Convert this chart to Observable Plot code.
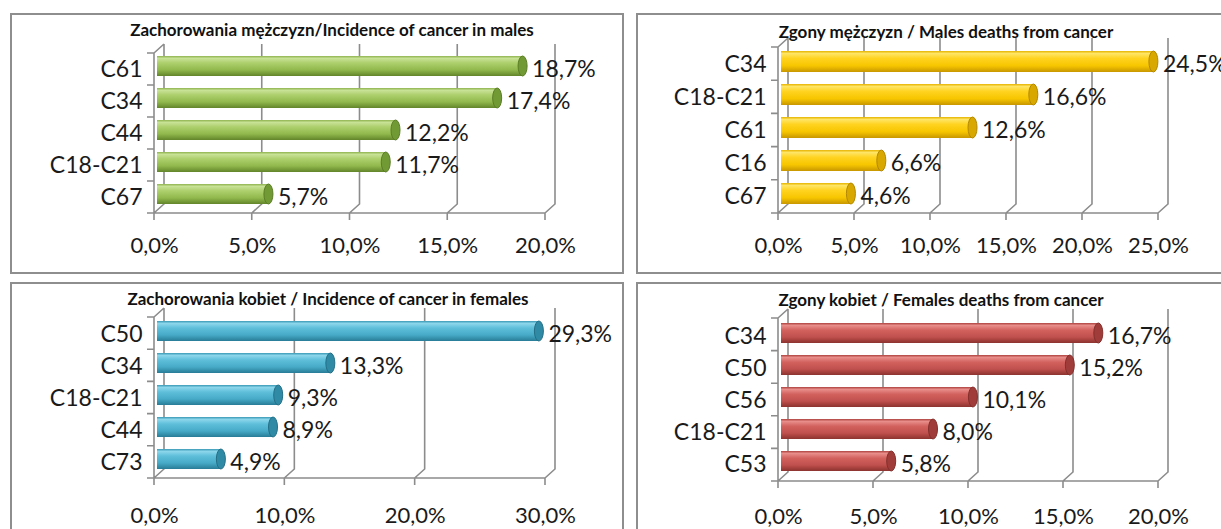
<!DOCTYPE html>
<html><head><meta charset="utf-8">
<script src="https://cdn.jsdelivr.net/npm/d3@7"></script>
<script src="https://cdn.jsdelivr.net/npm/@observablehq/plot@0.6"></script>
<style>
html,body{margin:0;padding:0;background:#fff;overflow:hidden;}
#root{position:relative;width:1221px;height:529px;overflow:hidden;font-family:Lato,"Open Sans",sans-serif;color:#1a1a1a;}
.box{position:absolute;border:2px solid #8e8e8e;box-sizing:border-box;}
.plot{position:absolute;}
.title{position:absolute;width:600px;text-align:center;font-weight:bold;font-size:17px;line-height:17px;color:#111;white-space:nowrap;}
</style></head><body><div id="root"></div>
<script>
// ---- data ----
const maleIncTitle = "Zachorowania mężczyzn/Incidence of cancer in males";
const maleIncCats = ["C61", "C34", "C44", "C18-C21", "C67"];
const maleIncVals = [18.7, 17.4, 12.2, 11.7, 5.7];
const maleIncTicks = [0, 5, 10, 15, 20];

const maleDeathTitle = "Zgony mężczyzn / Males deaths from cancer";
const maleDeathCats = ["C34", "C18-C21", "C61", "C16", "C67"];
const maleDeathVals = [24.5, 16.6, 12.6, 6.6, 4.6];
const maleDeathTicks = [0, 5, 10, 15, 20, 25];

const femIncTitle = "Zachorowania kobiet / Incidence of cancer in females";
const femIncCats = ["C50", "C34", "C18-C21", "C44", "C73"];
const femIncVals = [29.3, 13.3, 9.3, 8.9, 4.9];
const femIncTicks = [0, 10, 20, 30];

const femDeathTitle = "Zgony kobiet / Females deaths from cancer";
const femDeathCats = ["C34", "C50", "C56", "C18-C21", "C53"];
const femDeathVals = [16.7, 15.2, 10.1, 8.0, 5.8];
const femDeathTicks = [0, 5, 10, 15, 20];

// ---- styles / layout ----
const palettes = {
  green: {stops: ["#8fb34f", "#c8e296", "#adcf6c", "#90b84c", "#62852a"], cap: "#719a35", capStroke: "#5a7d26"},
  yellow: {stops: ["#e6b400", "#ffe566", "#ffd320", "#f7c600", "#c89700"], cap: "#d9a800", capStroke: "#b38700"},
  blue: {stops: ["#3798b5", "#8cd6ea", "#5fbfda", "#47aac7", "#287c96"], cap: "#2f8aa6", capStroke: "#256f86"},
  red: {stops: ["#ad423f", "#e88e8b", "#d3625f", "#c0504d", "#8c3330"], cap: "#a03c39", capStroke: "#83302d"}
};
const offsets = [0, 0.12, 0.35, 0.7, 1];

const panels = [
  {title: maleIncTitle, cats: maleIncCats, vals: maleIncVals, ticks: maleIncTicks, color: "green",
   box: [10, 13, 614, 261], svg: [612, 260], m: [40, 77, 60, 144], pad: 24, titleX: 332, titleY: 21},
  {title: maleDeathTitle, cats: maleDeathCats, vals: maleDeathVals, ticks: maleDeathTicks, color: "yellow",
   box: [636, 13, 620, 261], svg: [600, 260], m: [34, 78, 60, 142], pad: 24, titleX: 946, titleY: 23},
  {title: femIncTitle, cats: femIncCats, vals: femIncVals, ticks: femIncTicks, color: "blue",
   box: [10, 282, 614, 260], svg: [612, 260], m: [35, 77, 64, 144], pad: 29, titleX: 328, titleY: 290},
  {title: femDeathTitle, cats: femDeathCats, vals: femDeathVals, ticks: femDeathTicks, color: "red",
   box: [636, 282, 620, 260], svg: [600, 260], m: [36, 78, 61, 142], pad: 27, titleX: 941, titleY: 291}
];

const fmt = d => d.toFixed(1).replace(".", ",") + "%";
const root = document.getElementById("root");

function frame3d(ticks, n) {
  return Plot.ruleX(ticks, {x: d => d, render(index, scales, values, dims) {
    const xs = Array.from(index, i => values.x[i]);
    const top = dims.marginTop, bottom = dims.height - dims.marginBottom;
    const x0 = xs[0], xl = xs[xs.length - 1];
    const ox = 10, oy = -9, tk = 7;
    let d = "";
    for (const px of xs) d += `M${px},${bottom}L${px + ox},${bottom + oy}L${px + ox},${top + oy}`;
    d += `M${x0},${bottom}L${x0},${top}L${x0 + ox},${top + oy}`;
    d += `M${x0 - tk},${bottom}L${xl},${bottom}`;
    for (const px of xs) d += `M${px},${bottom}V${bottom + tk}`;
    const step = (bottom - top) / n;
    for (let k = 0; k < n; k++) d += `M${x0 - tk},${top + k * step}H${x0}`;
    const g = d3.create("svg:g");
    g.append("path").attr("d", d).attr("fill", "none").attr("stroke", "#8c8c8c").attr("stroke-width", 1.6);
    return g.node();
  }});
}

function cylinder(color) {
  const p = palettes[color];
  return (index, scales, values, dims, ctx, next) => {
    const g = next(index, scales, values, dims, ctx);
    const sel = d3.select(g);
    const defs = sel.insert("svg:defs", ":first-child");
    const lg = defs.append("linearGradient").attr("id", "grad-" + color)
      .attr("x1", 0).attr("y1", 0).attr("x2", 0).attr("y2", 1);
    p.stops.forEach((c, i) => lg.append("stop").attr("offset", offsets[i]).attr("stop-color", c));
    const rects = sel.selectAll("rect").nodes();
    for (const r of rects) {
      const x = +r.getAttribute("x"), y = +r.getAttribute("y");
      const w = +r.getAttribute("width"), h = +r.getAttribute("height");
      sel.append("ellipse").attr("cx", x + w).attr("cy", y + h / 2).attr("rx", 4.5).attr("ry", h / 2)
        .attr("fill", p.cap).attr("stroke", p.capStroke).attr("stroke-width", 1);
    }
    return g;
  };
}

for (const P of panels) {
  const box = document.createElement("div");
  box.className = "box";
  Object.assign(box.style, {left: P.box[0] + "px", top: P.box[1] + "px", width: P.box[2] + "px", height: P.box[3] + "px"});
  root.appendChild(box);

  const data = P.cats.map((c, i) => ({c, v: P.vals[i]}));
  const chart = Plot.plot({
    width: P.svg[0], height: P.svg[1],
    marginTop: P.m[0], marginRight: P.m[1], marginBottom: P.m[2], marginLeft: P.m[3],
    x: {domain: [0, d3.max(P.ticks)], axis: null},
    y: {domain: P.cats, padding: 0, axis: null},
    style: {fontFamily: "Lato, 'Open Sans', sans-serif", background: "transparent", overflow: "visible", color: "#1a1a1a"},
    marks: [
      frame3d(P.ticks, P.cats.length),
      Plot.axisX(P.ticks, {tickSize: 0, tickPadding: P.pad, fontSize: 22, tickFormat: fmt, label: null}),
      Plot.axisY({tickSize: 0, tickPadding: 12, fontSize: 23, label: null}),
      Plot.barX(data, {x: "v", y: "c", fill: `url(#grad-${P.color})`, insetTop: 6, insetBottom: 6, dx: 3, dy: -3, render: cylinder(P.color)}),
      Plot.text(data, {x: "v", y: "c", text: d => fmt(d.v), textAnchor: "start", dx: 12, fontSize: 23, fill: "#1a1a1a"})
    ]
  });
  chart.classList.add("plot");
  chart.style.left = P.box[0] + "px";
  chart.style.top = P.box[1] + "px";
  root.appendChild(chart);

  const t = document.createElement("div");
  t.className = "title";
  t.textContent = P.title;
  t.style.left = (P.titleX - 300) + "px";
  t.style.top = P.titleY + "px";
  root.appendChild(t);
}
</script></body></html>
